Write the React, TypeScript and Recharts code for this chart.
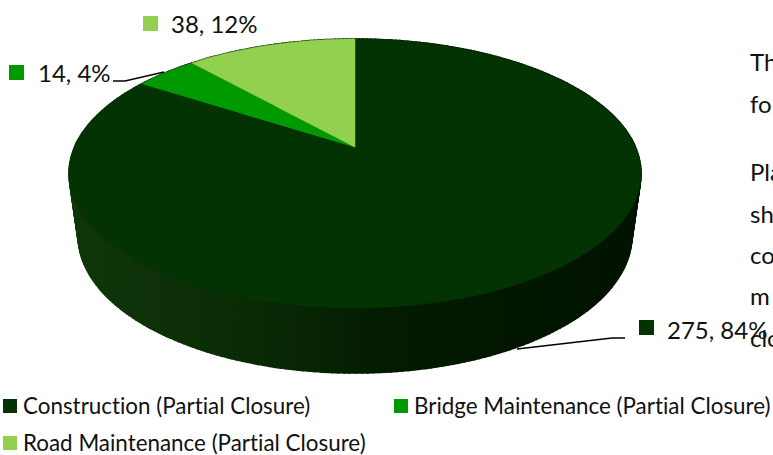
import { PieChart, Pie, Legend } from "recharts";

const categories = [
  "Construction (Partial Closure)",
  "Bridge Maintenance (Partial Closure)",
  "Road Maintenance (Partial Closure)",
];
const values = [275, 14, 38];
const colors = ["#033303", "#009900", "#92d050"];
const pageText = [
  { text: "Th", top: 47 },
  { text: "fo", top: 89 },
  { text: "Pla", top: 157 },
  { text: "sh", top: 199 },
  { text: "co", top: 240 },
  { text: "m", top: 281 },
  { text: "clo", top: 323 },
];

const chartData = categories.map((name, i) => ({ name, value: values[i], fill: colors[i] }));

const FONT = "Lato, sans-serif";

// perspective of the tilted disc, fitted to the picture
const PERSP = -0.197;
const RX = 280.4;
const RY = 129.3;
const DEPTH = 62;

const project = (cx: number, cy: number, angle: number) => {
  const rad = ((90 - angle) * Math.PI) / 180;
  const u = Math.sin(rad);
  const v = -Math.cos(rad);
  const d = 1 + PERSP * v;
  return { x: cx + (RX * u) / d, y: cy + (RY * v) / d };
};

const arcPoints = (cx: number, cy: number, start: number, end: number) => {
  const pts = [];
  const steps = Math.max(2, Math.ceil(Math.abs(end - start)));
  for (let i = 0; i <= steps; i++) {
    pts.push(project(cx, cy, start + ((end - start) * i) / steps));
  }
  return pts;
};

const toPath = (pts: { x: number; y: number }[]) =>
  pts.map((p, i) => `${i ? "L" : "M"}${p.x.toFixed(1)},${p.y.toFixed(1)}`).join(" ");

const TopSlice = (props: any) => {
  const { cx, cy, startAngle, endAngle, fill } = props;
  const d = `M${cx},${cy} ${toPath(arcPoints(cx, cy, startAngle, endAngle)).replace("M", "L")} Z`;
  return <path d={d} fill={fill} stroke={fill} strokeWidth={0.5} />;
};

// the side is one quad per step, a single outline would leave notches at the silhouette
const WallSlice = (props: any) => {
  const { cx, cy, startAngle, endAngle } = props;
  const top = arcPoints(cx, cy, startAngle, endAngle);
  const lower = (p: { x: number; y: number }) => ({
    x: cx + (p.x - cx) * 0.968,
    y: p.y + DEPTH + Math.max(0, (p.y - cy) / 160) * 3,
  });
  return (
    <g>
      {top.slice(1).map((p, i) => (
        <path
          key={i}
          d={`${toPath([top[i], p, lower(p), lower(top[i])])} Z`}
          fill="url(#wallShade)"
          stroke="url(#wallShade)"
          strokeWidth={1.6}
        />
      ))}
    </g>
  );
};

const labelSpots = [
  { box: [639, 320], text: [667, 339], line: "517,349 612,338 625,338" },
  { box: [9, 65], text: [38, 82], line: "113,81 125,81 164,72" },
  { box: [143, 16], text: [171, 33], line: "" },
];

const SliceLabel = (props: any) => {
  const { index, value, percent } = props;
  const spot = labelSpots[index];
  return (
    <g>
      {spot.line && <polyline points={spot.line} fill="none" stroke="#000" strokeWidth={1.5} />}
      <rect x={spot.box[0]} y={spot.box[1]} width={15} height={15} fill={colors[index]} />
      <text x={spot.text[0]} y={spot.text[1]} fontFamily={FONT} fontSize={24} fill="#111">
        {`${value}, ${Math.round(percent * 100)}%`}
      </text>
    </g>
  );
};

const legendSpots = [
  { left: 3, top: 392 },
  { left: 394, top: 392 },
  { left: 3, top: 429 },
];

const ChartLegend = () => (
  <div>
    {categories.map((name, i) => (
      <div
        key={name}
        style={{
          position: "absolute",
          left: legendSpots[i].left,
          top: legendSpots[i].top,
          display: "flex",
          alignItems: "center",
          whiteSpace: "nowrap",
          fontFamily: FONT,
          fontSize: 22.4,
          fontVariantLigatures: "none",
          lineHeight: "28px",
          color: "#111",
        }}
      >
        <span style={{ width: 14, height: 14, background: colors[i], marginRight: 6 }} />
        {name}
      </div>
    ))}
  </div>
);

export default function App() {
  return (
    <div style={{ position: "fixed", left: 0, top: 0, width: 773, height: 455, overflow: "hidden", background: "#fff" }}>
      {pageText.map((t) => (
        <div
          key={t.text}
          style={{ position: "absolute", left: 750, top: t.top, fontFamily: FONT, fontSize: 24, lineHeight: "30px", color: "#111" }}
        >
          {t.text}
        </div>
      ))}
      <PieChart
        width={773}
        height={455}
        margin={{ top: 0, right: 0, bottom: 0, left: 0 }}
        style={{ position: "absolute", left: 0, top: 0 }}
      >
        <defs>
          <linearGradient id="wallShade" gradientUnits="userSpaceOnUse" x1={69} y1={0} x2={641} y2={0}>
            <stop offset="0%" stopColor="#10350a" />
            <stop offset="30%" stopColor="#0a2c05" />
            <stop offset="55%" stopColor="#031b00" />
            <stop offset="100%" stopColor="#021300" />
          </linearGradient>
        </defs>
        <Pie
          data={chartData}
          dataKey="value"
          nameKey="name"
          cx={355}
          cy={147}
          outerRadius={100}
          startAngle={90}
          endAngle={-270}
          legendType="none"
          shape={WallSlice}
          isAnimationActive={false}
        />
        <Pie
          data={chartData}
          dataKey="value"
          nameKey="name"
          cx={355}
          cy={147}
          outerRadius={100}
          startAngle={90}
          endAngle={-270}
          shape={TopSlice}
          label={SliceLabel}
          labelLine={false}
          isAnimationActive={false}
        />
        <Legend content={<ChartLegend />} wrapperStyle={{ left: 0, top: 0, width: 773, height: 0 }} />
      </PieChart>
    </div>
  );
}
